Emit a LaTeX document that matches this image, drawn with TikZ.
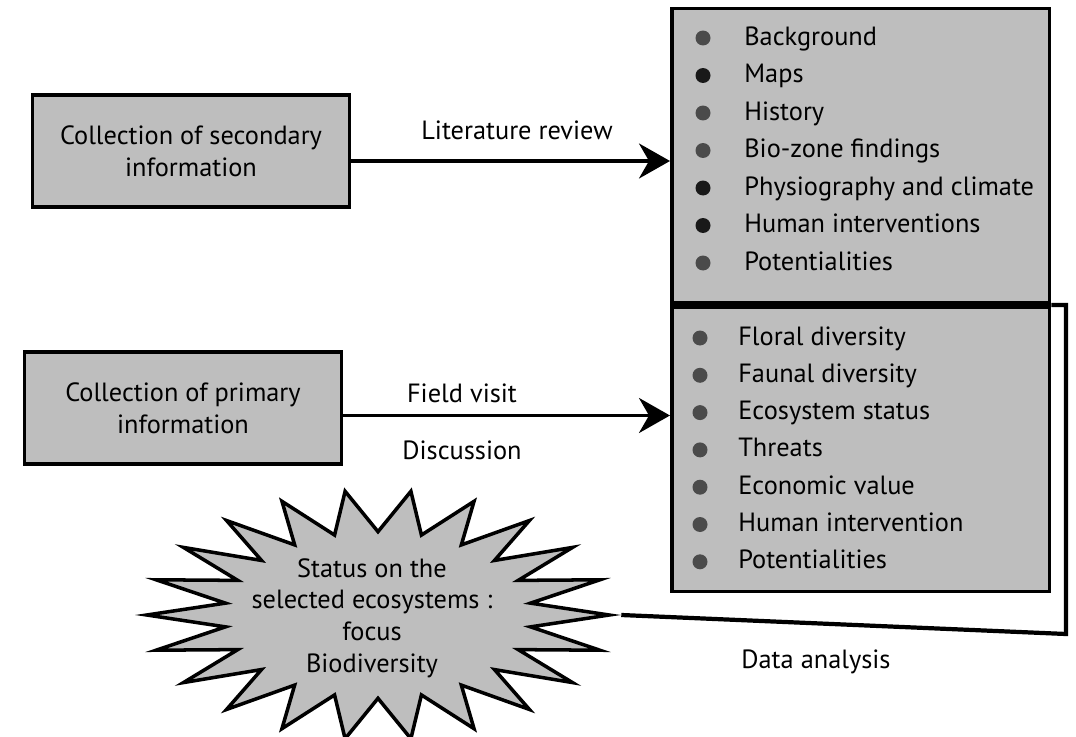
\documentclass[tikz,border=0pt]{standalone}
\usepackage{fontspec}
\setmainfont{PT Sans}
\usetikzlibrary{arrows.meta,shapes.geometric}
\definecolor{boxgray}{RGB}{190,190,190}
\definecolor{dotgray}{RGB}{75,75,75}
\definecolor{dotdark}{RGB}{25,25,25}

\begin{document}
\begin{tikzpicture}[x=0.02cm, y=-0.02cm,
  every node/.style={font=\fontsize{15pt}{18pt}\selectfont},
  infobox/.style={draw, fill=boxgray, line width=2pt, align=center, minimum width=6.35cm, minimum height=2.24cm},
  listbox/.style={draw, fill=boxgray, line width=2pt, minimum width=7.56cm},
  bullet/.style={circle, fill=#1, inner sep=0pt, minimum size=0.3cm},
  item/.style={anchor=west, inner sep=0pt, text height=11pt, text depth=3pt},
  flowarrow/.style={line width=2pt, -{Stealth[length=0.62cm, width=0.7cm, inset=0.2cm]}},
  linkline/.style={line width=2.4pt, line join=miter}]
  \useasboundingbox (0,0) rectangle (1076,737);
  % left boxes
  \node[infobox] (secondary) at (191,151) {Collection of secondary\\information};
  \node[infobox] (primary) at (183,408) {Collection of primary\\information};
  % right box, two parts
  \node[listbox, minimum height=5.9cm, anchor=south west] (litbox) at (670,305) {};
  \node[listbox, minimum height=5.7cm, anchor=north west] (fieldbox) at (670,305) {};
  % items of the review
  \foreach \txt/\col [count=\i] in {Background/dotgray, Maps/dotdark, History/dotgray,
      Bio-zone findings/dotgray, Physiography and climate/dotdark,
      Human interventions/dotdark, Potentialities/dotgray} {
    \node[bullet=\col] (ldot\i) at (703, 0.5+37.5*\i) {};
    \node[item] (litem\i) at (744, 0.5+37.5*\i) {\txt};
  }
  % items of the field work
  \foreach \txt [count=\i] in {Floral diversity, Faunal diversity, Ecosystem status,
      Threats, Economic value, Human intervention, Potentialities} {
    \node[bullet=dotgray] (fdot\i) at (700, 300.7+37.3*\i) {};
    \node[item] (fitem\i) at (738, 300.7+37.3*\i) {\txt};
  }
  % arrows
  \draw[flowarrow] ([yshift=-0.2cm]secondary.east) -- ([yshift=-0.2cm]secondary.east -| litbox.west);
  \node (litlabel) at (517,130) {Literature review};
  \draw[flowarrow] ([yshift=-0.15cm]primary.east) -- ([yshift=-0.15cm]primary.east -| fieldbox.west);
  \node (fieldlabel) at (462,393) {Field visit};
  \node (disclabel) at (462,450) {Discussion};
  % status burst
  \node[star, star points=22, star point ratio=1.5, shape border rotate=8.18,
    draw, fill=boxgray, line width=2pt, minimum size=5cm, xscale=1.85, transform shape]
    (status) at (378,615) {};
  \node[align=center] (statustext) at (372,618) {Status on the\\selected ecosystems :\\focus\\Biodiversity};
  \coordinate (dacorner) at (1066,634);
  \draw[linkline] (status.east) -- (dacorner) |- (fieldbox.north east);
  \node (dalabel) at (816,662) {Data analysis};
\end{tikzpicture}
\end{document}
